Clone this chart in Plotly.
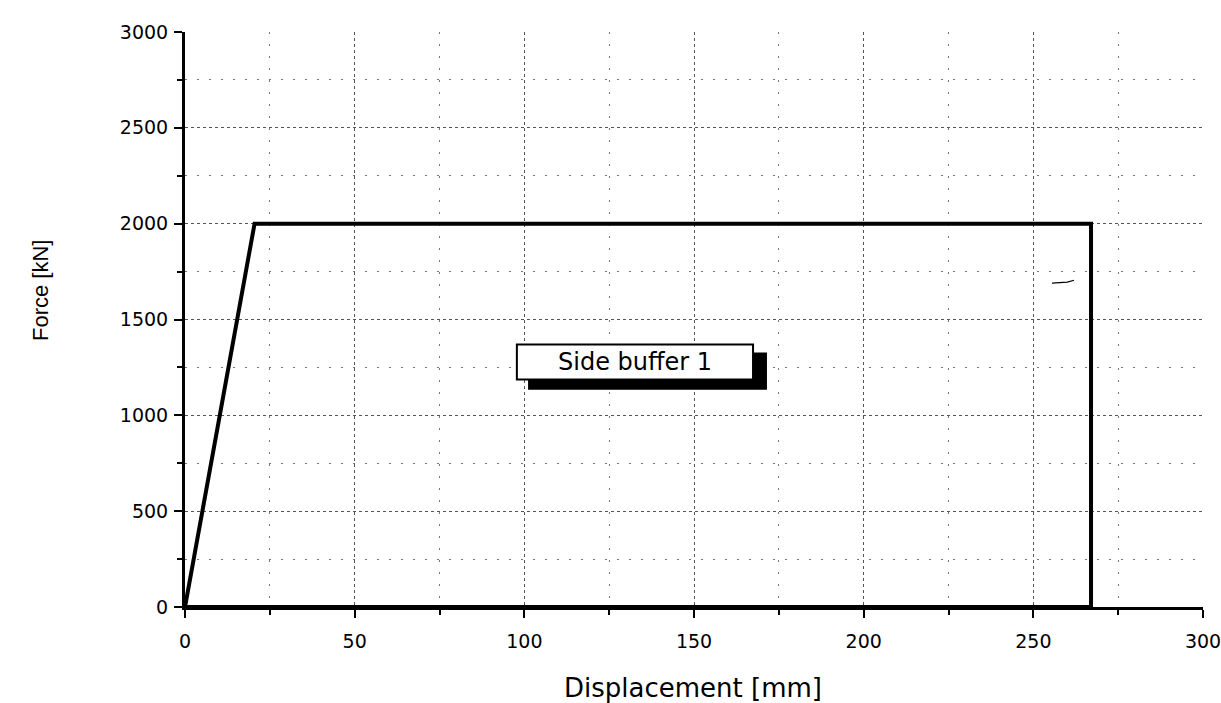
import plotly.graph_objects as go

# Data
displacement = [0, 20.5, 60, 150, 267, 267, 0]
force = [0, 2000, 2000, 2000, 2000, 0, 0]
x_ticks = [0, 50, 100, 150, 200, 250, 300]
y_ticks = [0, 500, 1000, 1500, 2000, 2500, 3000]
label_text = "Side buffer 1"
label_x = 132.6
label_y = 1278
mark_x = [255.5, 260, 262]
mark_y = [1690, 1695, 1705]

L, R, T, B = 185, 18, 32, 96
W, H = 1221, 703
pw = W - L - R
ph = H - T - B

fig = go.Figure()
fig.add_trace(go.Scatter(x=displacement, y=force, mode="lines",
                         line=dict(color="black", width=4), showlegend=False,
                         hoverinfo="skip"))
fig.add_trace(go.Scatter(x=mark_x, y=mark_y, mode="lines",
                         line=dict(color="black", width=1.2), showlegend=False,
                         hoverinfo="skip"))

axis_font = dict(family="DejaVu Sans", size=19, color="black")

common = dict(showline=True, linecolor="black", linewidth=3, mirror=False,
              ticks="outside", ticklen=8, tickwidth=2, tickcolor="black",
              tickfont=axis_font, automargin=False,
              ticklabeloverflow="allow",
              showgrid=True, gridcolor="#555", griddash="dot", gridwidth=1,
              zeroline=False)

fig.update_xaxes(range=[0, 300], tickvals=x_ticks, ticktext=[str(v) for v in x_ticks],
                 ticklabelstandoff=7,
                 minor=dict(tickvals=[25, 75, 125, 175, 225, 275], ticks="outside",
                            ticklen=5, tickwidth=2, tickcolor="black",
                            showgrid=True, gridcolor="#777", griddash="2px,10px",
                            gridwidth=1), **common)
fig.update_yaxes(range=[0, 3000], tickvals=y_ticks, ticktext=[str(v) for v in y_ticks],
                 ticklabelstandoff=2,
                 minor=dict(tickvals=[250, 750, 1250, 1750, 2250, 2750], ticks="outside",
                            ticklen=5, tickwidth=2, tickcolor="black",
                            showgrid=True, gridcolor="#777", griddash="2px,10px",
                            gridwidth=1), **common)

# label box with drop shadow
fig.add_shape(type="rect", xref="x", yref="y", x0=101.1, x1=171.5, y0=1134, y1=1328,
              fillcolor="black", line=dict(color="black", width=0), layer="above")
fig.add_shape(type="rect", xref="x", yref="y", x0=97.8, x1=167.4, y0=1187, y1=1369,
              fillcolor="white", line=dict(color="black", width=2), layer="above")
fig.add_annotation(x=label_x, y=label_y, xref="x", yref="y", text=label_text,
                   showarrow=False,
                   font=dict(family="DejaVu Sans", size=24, color="black"))

# axis titles
fig.add_annotation(x=(693 - L) / pw, y=-(688 - (H - B)) / ph, xref="paper", yref="paper",
                   xanchor="center", yanchor="middle",
                   text="Displacement [mm]", showarrow=False,
                   font=dict(family="DejaVu Sans", size=26, color="black"))
fig.add_annotation(x=(40 - L) / pw, y=((H - B) - 291) / ph, xref="paper", yref="paper",
                   xanchor="center", yanchor="middle", textangle=-90,
                   text="Force [kN]", showarrow=False,
                   font=dict(family="Liberation Sans, Arial", size=22, color="black"))

fig.update_layout(width=W, height=H, paper_bgcolor="white", plot_bgcolor="white",
                  margin=dict(l=L, r=R, t=T, b=B), showlegend=False)

fig.write_html("out.html")
